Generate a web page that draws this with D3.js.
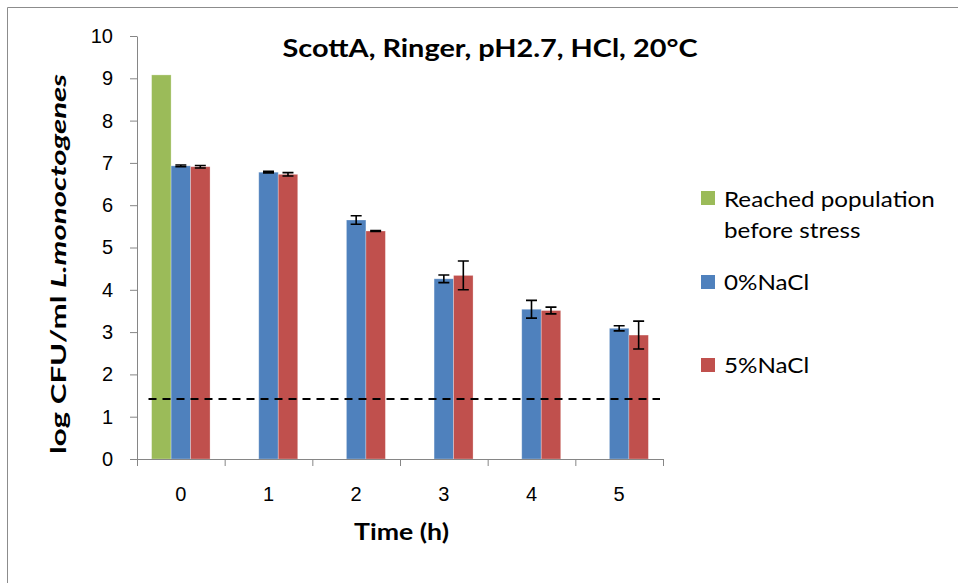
<!DOCTYPE html>
<html>
<head>
<meta charset="utf-8">
<script src="https://cdn.jsdelivr.net/npm/d3@7"></script>
<style>
    body { margin: 0; background: #fff; }
    svg { display: block; font-family: Lato, "Open Sans", sans-serif; }
    .axis path, .axis line { stroke: #868686; }
    .axis text { fill: #000; }
</style>
</head>
<body>
<div id="chart"></div>
<script>
// --------- DATA ---------
let times = ["0", "1", "2", "3", "4", "5"];
let seriesNames = ["Reached population before stress", "0%NaCl", "5%NaCl"];
let seriesColors = ["#9BBB59", "#4F81BD", "#C0504D"];

let reached = [9.08, null, null, null, null, null];
let noSalt = [6.93, 6.78, 5.65, 4.26, 3.54, 3.09];
let noSaltErr = [0.02, 0.02, 0.10, 0.09, 0.21, 0.06];
let salt = [6.91, 6.73, 5.39, 4.34, 3.51, 2.93];
let saltErr = [0.03, 0.04, 0.01, 0.34, 0.08, 0.33];
let detectionLimit = 1.42;
let yTicks = [0, 1, 2, 3, 4, 5, 6, 7, 8, 9, 10];

// --------- GRAPHING ---------
let width = 958, height = 583;
let plot = {left: 137, right: 663, top: 36, bottom: 459};

// widen text a bit, the original font runs wider than Lato
function stretch(sel, len) {
    sel.each(function() {
        let natural = this.getComputedTextLength();
        d3.select(this)
            .attr("textLength", len === undefined ? natural * 1.1 : len)
            .attr("lengthAdjust", "spacingAndGlyphs");
    });
}

let svg = d3.select("#chart")
    .append("svg")
    .attr("width", width)
    .attr("height", height);

svg.append("rect").attr("width", width).attr("height", height).attr("fill", "#fff");

// outer chart border (only top and left visible)
svg.append("path")
    .attr("d", "M7.5," + height + "V7.5H" + width)
    .attr("fill", "none")
    .attr("stroke", "#8c8c8c")
    .attr("stroke-width", 1);

let yScale = d3.scaleLinear()
    .domain([0, 10])
    .range([plot.bottom, plot.top]);

let x0 = d3.scaleBand()
    .domain(times)
    .range([plot.left, plot.right])
    .paddingInner(0);

let x1 = d3.scaleBand()
    .domain(d3.range(3))
    .range([0, x0.bandwidth()])
    .paddingInner(0)
    .paddingOuter(0.75);

// category boundaries for the x tick marks
let xEdge = d3.scaleLinear()
    .domain([0, times.length])
    .range([plot.left, plot.right]);

// Bars
let values = [reached, noSalt, salt];
let bars = [];
values.forEach((vals, s) => {
    vals.forEach((v, i) => {
        if (v !== null) bars.push({time: times[i], s: s, v: v});
    });
});

svg.append("g")
    .selectAll("rect")
    .data(bars)
    .join("rect")
    .attr("x", d => x0(d.time) + x1(d.s))
    .attr("y", d => yScale(d.v))
    .attr("width", x1.bandwidth())
    .attr("height", d => yScale(0) - yScale(d.v))
    .attr("fill", d => seriesColors[d.s])
    .attr("stroke", "rgba(255,255,255,0.35)")
    .attr("stroke-width", 0.8);

// Axes
let yAxis = d3.axisLeft(yScale)
    .tickValues(yTicks)
    .tickSize(7)
    .tickSizeOuter(0)
    .tickPadding(17);

let yG = svg.append("g")
    .attr("class", "axis")
    .attr("transform", "translate(" + plot.left + ",0)")
    .call(yAxis);
yG.selectAll("text").style("font-size", "20px");

let xTickAxis = d3.axisBottom(xEdge)
    .tickValues(d3.range(times.length + 1))
    .tickFormat("")
    .tickSize(7)
    .tickSizeOuter(0);

svg.append("g")
    .attr("class", "axis")
    .attr("transform", "translate(0," + plot.bottom + ")")
    .call(xTickAxis);

let xLabelAxis = d3.axisBottom(x0)
    .tickSize(0)
    .tickPadding(28);

let xG = svg.append("g")
    .attr("class", "axis")
    .attr("transform", "translate(0," + plot.bottom + ")")
    .call(xLabelAxis);
xG.select(".domain").remove();
xG.selectAll("text").style("font-size", "20px");

// Detection limit line
svg.append("line")
    .attr("x1", plot.left + 11.5)
    .attr("x2", plot.right - 3)
    .attr("y1", yScale(detectionLimit))
    .attr("y2", yScale(detectionLimit))
    .attr("stroke", "#000")
    .attr("stroke-width", 2)
    .attr("stroke-dasharray", "8,6");

// Error bars
let errs = [];
[[noSalt, noSaltErr, 1], [salt, saltErr, 2]].forEach(([vals, e, s]) => {
    vals.forEach((v, i) => errs.push({time: times[i], s: s, v: v, e: e[i]}));
});

let capW = 5.5;
let eg = svg.append("g")
    .attr("stroke", "#000")
    .attr("stroke-width", 1.6)
    .attr("fill", "none");

eg.selectAll("path")
    .data(errs)
    .join("path")
    .attr("d", d => {
        let cx = x0(d.time) + x1(d.s) + x1.bandwidth() / 2;
        let hi = yScale(d.v + d.e), lo = yScale(d.v - d.e);
        return "M" + (cx - capW) + "," + hi + "H" + (cx + capW) +
            "M" + cx + "," + hi + "V" + lo +
            "M" + (cx - capW) + "," + lo + "H" + (cx + capW);
    });

// Title
svg.append("text")
    .attr("x", 490)
    .attr("y", 57)
    .attr("text-anchor", "middle")
    .style("font-size", "24.5px")
    .style("font-weight", "bold")
    .text("ScottA, Ringer, pH2.7, HCl, 20°C")
    .call(stretch, 415);

// Axis titles
svg.append("text")
    .attr("x", 401.5)
    .attr("y", 540)
    .attr("text-anchor", "middle")
    .style("font-size", "22px")
    .style("font-weight", "bold")
    .text("Time (h)")
    .call(stretch, 95);

let yTitle = svg.append("text")
    .attr("transform", "translate(66,264) rotate(-90)")
    .attr("text-anchor", "middle")
    .style("font-size", "21.5px")
    .style("font-weight", "bold");
yTitle.append("tspan").text("log CFU/ml ");
yTitle.append("tspan").style("font-style", "italic").text("L.monoctogenes");
yTitle.call(stretch, 380);

// Legend
let legendRows = [
    {s: 0, boxY: 191, lines: ["Reached population", "before stress"], y: 207},
    {s: 1, boxY: 275, lines: ["0%NaCl"], y: 290},
    {s: 2, boxY: 358, lines: ["5%NaCl"], y: 373}
];

let legend = svg.append("g");
legendRows.forEach(r => {
    legend.append("rect")
        .attr("x", 701)
        .attr("y", r.boxY)
        .attr("width", 14)
        .attr("height", 14)
        .attr("fill", seriesColors[r.s]);
    r.lines.forEach((l, k) => {
        legend.append("text")
            .attr("x", 724)
            .attr("y", r.y + k * 30.5)
            .style("font-size", "22px")
            .text(l)
            .call(stretch);
    });
});
</script>
</body>
</html>
